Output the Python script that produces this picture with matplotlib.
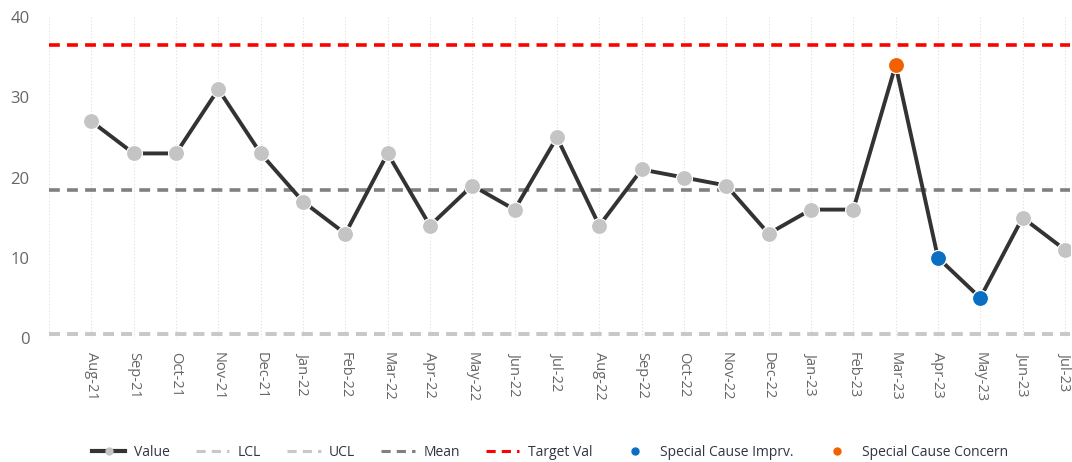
import matplotlib
matplotlib.use("Agg")
import matplotlib.pyplot as plt
from matplotlib.lines import Line2D

plt.rcParams["font.family"] = ["Open Sans", "DejaVu Sans"]

# ── Data ──────────────────────────────────────────────────────────────
months = ["Aug-21", "Sep-21", "Oct-21", "Nov-21", "Dec-21", "Jan-22", "Feb-22",
          "Mar-22", "Apr-22", "May-22", "Jun-22", "Jul-22", "Aug-22", "Sep-22",
          "Oct-22", "Nov-22", "Dec-22", "Jan-23", "Feb-23", "Mar-23", "Apr-23",
          "May-23", "Jun-23", "Jul-23"]
values = [27, 23, 23, 31, 23, 17, 13, 23, 14, 19, 16, 25, 14, 21,
          20, 19, 13, 16, 16, 34, 10, 5, 15, 11]
lcl = 0.5
ucl = 0.5
mean = 18.5
target = 36.5
imprv_idx = [20, 21]     # Apr-23, May-23
concern_idx = [19]       # Mar-23

# ── Style ─────────────────────────────────────────────────────────────
C_LINE = "#333333"
C_PT = "#c4c4c4"
C_LIMIT = "#c8c8c8"
C_MEAN = "#808080"
C_TARGET = "#ff0000"
C_IMPRV = "#0a6fc2"
C_CONCERN = "#f26100"
C_TICK = "#666666"

fig = plt.figure(figsize=(10.72, 4.62), dpi=100)
ax = fig.add_axes([49 / 1072, (462 - 338) / 462, (1070 - 49) / 1072, 321 / 462])

x = list(range(len(months)))
n = len(months)

ax.axhline(lcl, color=C_LIMIT, lw=2.6, ls=(0, (3, 2)), zorder=2)
ax.axhline(ucl, color=C_LIMIT, lw=2.6, ls=(0, (3, 2)), zorder=2)
ax.axhline(mean, color=C_MEAN, lw=2.6, ls=(0, (3, 2)), zorder=2)
ax.axhline(target, color=C_TARGET, lw=2.6, ls=(0, (3, 2)), zorder=2)

ax.plot(x, values, color=C_LINE, lw=2.8, zorder=3,
        marker="o", ms=11.5, mfc=C_PT, mec="white", mew=0.8)
ax.plot([x[i] for i in imprv_idx], [values[i] for i in imprv_idx], "o",
        ms=11.5, mfc=C_IMPRV, mec="white", mew=0.8, zorder=4)
ax.plot([x[i] for i in concern_idx], [values[i] for i in concern_idx], "o",
        ms=11.5, mfc=C_CONCERN, mec="white", mew=0.8, zorder=4)

ax.set_xlim(-1, n - 1 + 0.12)
ax.set_ylim(0, 40)
ax.set_yticks([0, 10, 20, 30, 40])
ax.set_xticks(x)
ax.set_xticklabels(months, rotation=270, fontsize=10.5, color=C_TICK)
ax.tick_params(axis="y", labelsize=12, labelcolor=C_TICK, length=0, pad=14)
ax.tick_params(axis="x", length=0, pad=10)

# vertical dotted gridlines incl. one at the left edge
for xi in [-1] + x:
    ax.axvline(xi, color="#dddddd", lw=0.8, ls=(0, (1, 2)), zorder=1)
for s in ax.spines.values():
    s.set_visible(False)

# ── Legend ────────────────────────────────────────────────────────────
handles = [
    Line2D([], [], color=C_LINE, lw=3, marker="o", ms=5, mfc=C_PT, mec=C_PT),
    Line2D([], [], color=C_LIMIT, lw=2.2, ls=(0, (3, 2))),
    Line2D([], [], color=C_LIMIT, lw=2.2, ls=(0, (3, 2))),
    Line2D([], [], color=C_MEAN, lw=2.2, ls=(0, (3, 2))),
    Line2D([], [], color=C_TARGET, lw=2.2, ls=(0, (3, 2))),
    Line2D([], [], ls="", marker="o", ms=5, color=C_IMPRV),
    Line2D([], [], ls="", marker="o", ms=5, color=C_CONCERN),
]
labels = ["Value", "LCL", "UCL", "Mean", "Target Val",
          "Special Cause Imprv.", "Special Cause Concern"]
fig.legend(handles, labels, loc="center", bbox_to_anchor=(550 / 1072, (462 - 452) / 462),
           ncol=7, frameon=False, fontsize=10, handlelength=2.4,
           handletextpad=0.6, columnspacing=1.9, labelcolor="#333344")

fig.savefig("out.png", dpi=100)
